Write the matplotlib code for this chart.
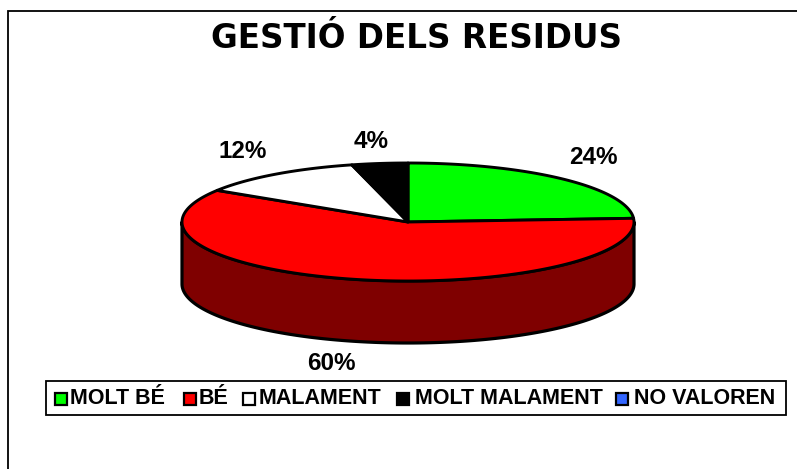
#!/usr/bin/python3

import numpy as np
import matplotlib
matplotlib.use("Agg")
import matplotlib.pyplot as plt
from matplotlib.patches import Polygon, Rectangle

plt.rcParams['font.family'] = ['Liberation Sans', 'DejaVu Sans']

title = "GESTIÓ DELS RESIDUS"
categories = ["MOLT BÉ", "BÉ", "MALAMENT", "MOLT MALAMENT", "NO VALOREN"]
values = [24, 60, 12, 4, 0]
colors = ["#00ff00", "#ff0000", "#ffffff", "#000000", "#3366ff"]
label_pos = [(593, 157), (331, 364), (243, 151), (371, 141), None]

W, H = 797, 469
cx, cy, rx, ry, depth = 408, 222, 226, 59, 62

fig = plt.figure(figsize=(W/100, H/100), dpi=100)
ax = fig.add_axes([0, 0, 1, 1])
ax.set_xlim(0, W)
ax.set_ylim(H, 0)
ax.axis('off')


def rim(t0, t1, dy=0):
    # t is clockwise from 12 o'clock, on the projected circle
    t = np.radians(np.linspace(t0, t1, 200))
    return np.column_stack([cx + rx*np.sin(t), cy - ry*np.cos(t) + dy])


# outer frame, open to the right and the bottom like the picture
ax.plot([8, 8, W], [H, 11, 11], color='k', lw=1.3, solid_joinstyle='miter')

ax.text(417, 39, title, ha='center', va='center', fontsize=23.5, fontweight='bold',
        family='DejaVu Sans')

# side wall
front = rim(90, 270)
wall = np.vstack([front, rim(270, 90, depth)])
ax.add_patch(Polygon(wall, closed=True, fc="#7f0000", ec='k', lw=2.3, joinstyle='round'))

# top slices
angles = np.cumsum([0] + values) / sum(values) * 360
for i, v in enumerate(values):
    if v == 0:
        continue
    pts = np.vstack([[cx, cy], rim(angles[i], angles[i+1])])
    ax.add_patch(Polygon(pts, closed=True, fc=colors[i], ec='k', lw=2.1, joinstyle='round'))

for v, pos in zip(values, label_pos):
    if pos is not None:
        ax.text(pos[0], pos[1], "%d%%" % v, ha='center', va='center',
                fontsize=17.5, fontweight='bold')

# legend
ax.add_patch(Rectangle((46, 381), 740, 34, fc='w', ec='k', lw=1.3))
swatch_x = [55, 184, 243, 397, 616]
text_x = [70, 199, 259, 415, 634]
for sx, tx, c, name in zip(swatch_x, text_x, colors, categories):
    ax.add_patch(Rectangle((sx, 393), 12, 12, fc=c, ec='k', lw=1.6))
    ax.text(tx, 398.5, name, ha='left', va='center', fontsize=15.5, fontweight='bold')

fig.savefig("out.png", dpi=100)
